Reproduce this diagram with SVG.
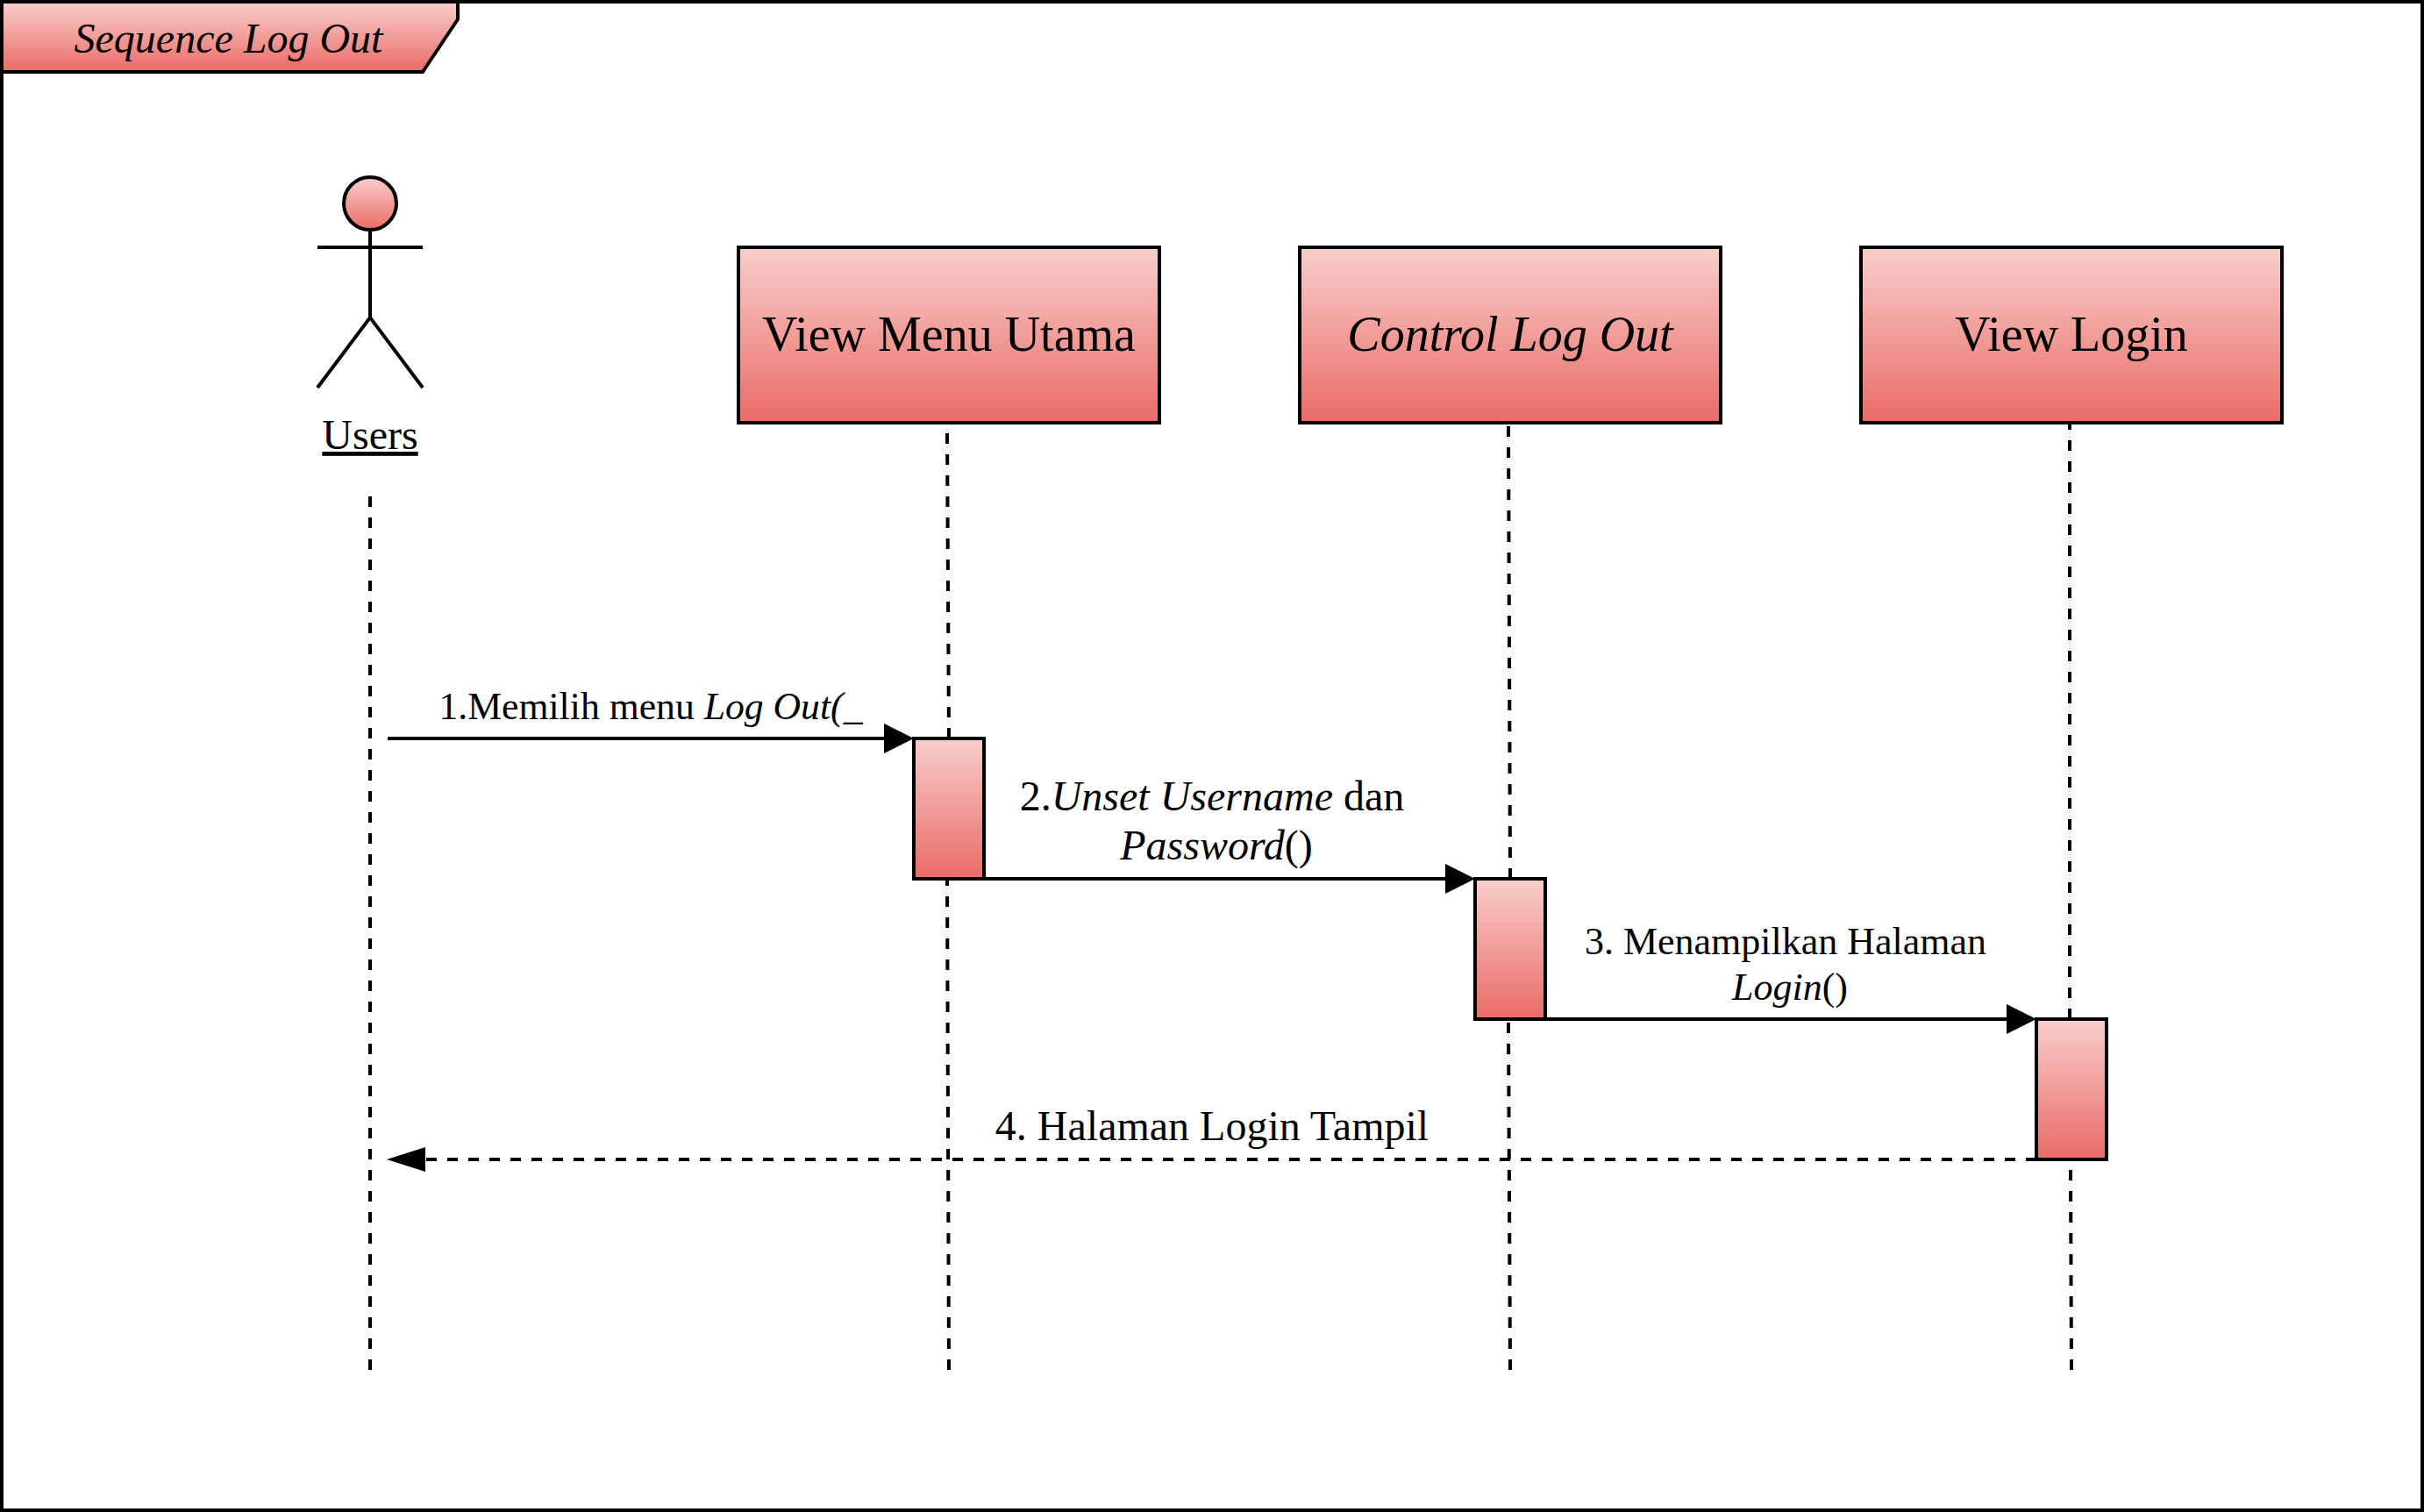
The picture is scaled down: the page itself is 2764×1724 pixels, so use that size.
<svg xmlns="http://www.w3.org/2000/svg" width="2764" height="1724" viewBox="0 0 2764 1724">
  <style>
    text { font-family: "Liberation Serif", "Times New Roman", serif; fill: #000; }
    .c { text-anchor: middle; }
    .i { font-style: italic; }
    .box { font-size: 56px; }
    .lbl { font-size: 48px; }
    .sm { font-size: 44px; }
    .s { stroke: #000; stroke-width: 4; fill: none; stroke-linecap: butt; }
    .g { fill: url(#red); stroke: #000; stroke-width: 4; }
    .d { stroke-dasharray: 12 12; }
  </style>
  <defs>
    <linearGradient id="red" x1="0" y1="0" x2="0" y2="1">
      <stop offset="0" stop-color="#f8cecc"/>
      <stop offset="1" stop-color="#ea6b66"/>
    </linearGradient>
    <marker id="head" markerUnits="userSpaceOnUse" markerWidth="34" markerHeight="34" refX="0" refY="17" orient="auto">
      <path d="M0 0L34 17L0 34Z" fill="#000"/>
    </marker>
    <marker id="back" markerUnits="userSpaceOnUse" markerWidth="44" markerHeight="28" refX="0" refY="14" orient="auto">
      <path d="M0 0L44 14L0 28Z" fill="#000"/>
    </marker>
  </defs>
  <rect width="2764" height="1724" fill="#fff"/>
  <g id="frame">
    <rect class="s" x="2" y="2" width="2760" height="1720" fill="#fff"/>
    <path class="g" d="M2 2H522V22L482 82H2Z"/>
    <text class="i c lbl" x="260.500" y="60">Sequence Log Out</text>
  </g>
  <g id="connectors">
    <path class="s d" d="M422 566V1562"/>
    <path class="s d" d="M1080 494L1082 842"/>
    <path class="s d" d="M1080 998L1082 1562"/>
    <path class="s d" d="M1720 486L1722 1002"/>
    <path class="s d" d="M1720 1166L1722 1562"/>
    <path class="s d" d="M2360 478V1162"/>
    <path class="s d" d="M2361 1334L2362 1562"/>
    <path class="s" d="M442 842H1008" marker-end="url(#head)"/>
    <path class="s" d="M1122 1002H1648" marker-end="url(#head)"/>
    <path class="s" d="M1762 1162H2288" marker-end="url(#head)"/>
    <path class="s d" d="M2322 1322H485" marker-end="url(#back)"/>
    <text style="font-size:43.7px" x="500.500" y="820">1.Memilih menu <tspan class="i">Log Out(_</tspan></text>
    <text class="lbl c" x="1382" y="924">2.<tspan class="i">Unset Username</tspan> dan</text>
    <text class="lbl c" x="1387" y="980"><tspan class="i">Password</tspan>()</text>
    <text class="c sm" x="2036" y="1088">3. Menampilkan Halaman</text>
    <text class="c sm" x="2041" y="1140"><tspan class="i">Login</tspan>()</text>
    <text class="lbl c" x="1382" y="1300">4. Halaman Login Tampil</text>
  </g>
  <g id="actor-users">
    <ellipse class="g" cx="422" cy="232" rx="30" ry="30"/>
    <path class="s" d="M422 262V362M362 282H482M362 442L422 362L482 442"/>
    <text class="lbl c" x="422" y="512" text-decoration="underline">Users</text>
  </g>
  <g id="node-view-menu-utama">
    <rect class="g" x="842" y="282" width="480" height="200"/>
    <text class="box c" x="1082" y="400">View Menu Utama</text>
  </g>
  <g id="node-control-log-out">
    <rect class="g" x="1482" y="282" width="480" height="200"/>
    <text class="box c i" x="1722" y="400">Control Log Out</text>
  </g>
  <g id="node-view-login">
    <rect class="g" x="2122" y="282" width="480" height="200"/>
    <text class="box c" x="2362" y="400">View Login</text>
  </g>
  <g id="activation-1"><rect class="g" x="1042" y="842" width="80" height="160"/></g>
  <g id="activation-2"><rect class="g" x="1682" y="1002" width="80" height="160"/></g>
  <g id="activation-3"><rect class="g" x="2322" y="1162" width="80" height="160"/></g>
</svg>
